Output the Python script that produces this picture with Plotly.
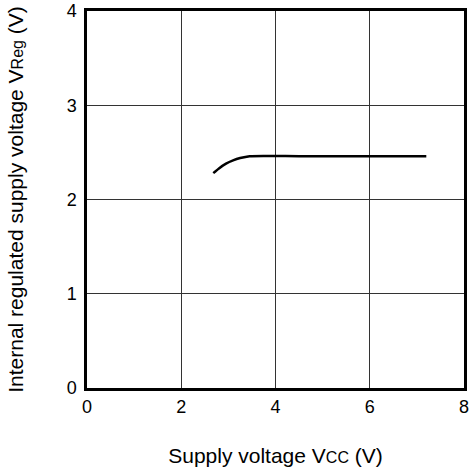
import plotly.graph_objects as go

vcc = [2.68, 2.8, 2.95, 3.1, 3.25, 3.45, 4.5, 6.0, 7.2]
vreg = [2.28, 2.33, 2.38, 2.415, 2.44, 2.46, 2.46, 2.46, 2.46]

x_ticks = [0, 2, 4, 6, 8]
y_ticks = [0, 1, 2, 3, 4]

fig = go.Figure()
fig.add_trace(go.Scatter(x=vcc, y=vreg, mode="lines",
                         line=dict(color="black", width=2.5, shape="spline", smoothing=0.6),
                         showlegend=False, hoverinfo="skip"))

font = dict(family="Liberation Sans, Arial, sans-serif", size=18, color="black")
tfont = dict(family="Liberation Sans, Arial, sans-serif", size=21, color="black")
fig.update_layout(
    width=470, height=474,
    margin=dict(l=87, r=6, t=11, b=86),
    paper_bgcolor="white", plot_bgcolor="white",
    font=font,
    xaxis=dict(range=[0, 8], tickvals=x_ticks, showgrid=True, gridcolor="#333333", gridwidth=1,
               showline=True, linecolor="black", linewidth=2.5, mirror=True, automargin=False,
               ticks="outside", ticklen=1, tickcolor="rgba(0,0,0,0)", zeroline=False,
               title=dict(text="Supply voltage V<span style='font-size:16px'>CC</span> (V)",
                          standoff=32, font=tfont)),
    yaxis=dict(range=[0, 4], tickvals=y_ticks, showgrid=True, gridcolor="#333333", gridwidth=1,
               showline=True, linecolor="black", linewidth=2.5, mirror=True, automargin=False,
               ticks="outside", ticklen=4, tickcolor="rgba(0,0,0,0)", zeroline=False,
               title=dict(text="Internal regulated supply voltage V<span style='font-size:16px'>Reg</span> (V)",
                          standoff=38, font=tfont)),
)

fig.write_html("out.html", config={"displayModeBar": False},
               post_script="document.body.style.margin='0';document.body.style.overflow='hidden';")
